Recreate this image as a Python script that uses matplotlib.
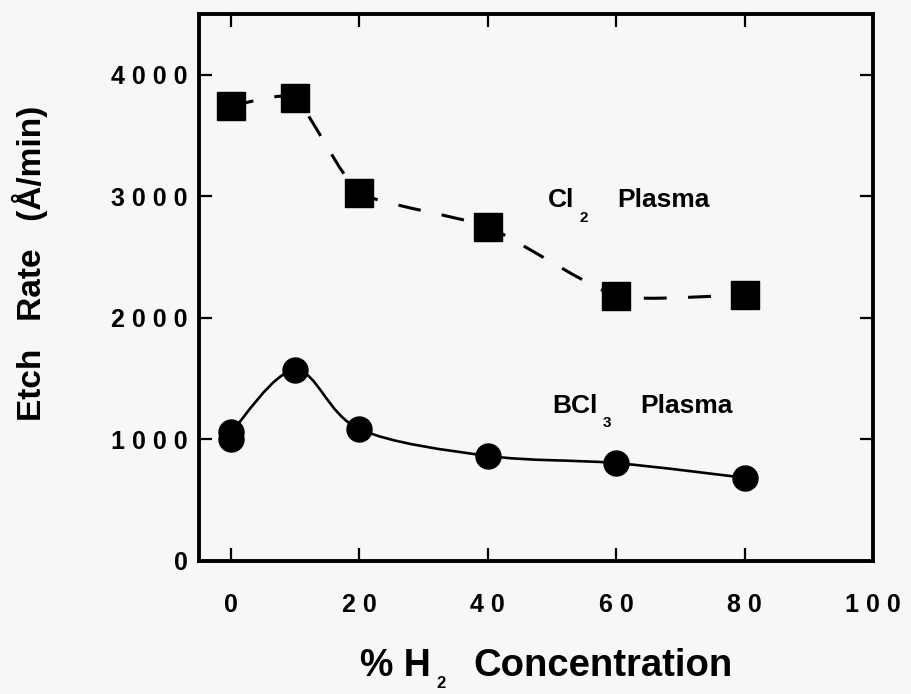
import matplotlib
matplotlib.use("Agg")
import matplotlib.pyplot as plt
from matplotlib.path import Path
from matplotlib.patches import PathPatch

# data
h2_pct = [0, 10, 20, 40, 60, 80]
cl2_rate = [3740, 3810, 3030, 2750, 2180, 2190]
bcl3_x = [0, 0, 10, 20, 40, 60, 80]
bcl3_rate = [1000, 1060, 1570, 1085, 865, 805, 685]

x_ticks = [0, 20, 40, 60, 80, 100]
x_labels = ["0", "2 0", "4 0", "6 0", "8 0", "1 0 0"]
y_ticks = [0, 1000, 2000, 3000, 4000]
y_labels = ["0", "1 0 0 0", "2 0 0 0", "3 0 0 0", "4 0 0 0"]

plt.rcParams['font.family'] = ['Liberation Sans', 'DejaVu Sans']
plt.rcParams['font.weight'] = 'bold'

BG = "#f7f7f7"
W, H = 912, 694


# smooth curve through points (cardinal spline as cubic bezier)
def smooth_path(xs, ys, k=1 / 6):
    pts = list(zip(xs, ys))
    verts = [pts[0]]
    codes = [Path.MOVETO]
    for i in range(len(pts) - 1):
        p0 = pts[i - 1] if i > 0 else pts[i]
        p1 = pts[i]
        p2 = pts[i + 1]
        p3 = pts[i + 2] if i + 2 < len(pts) else p2
        c1 = (p1[0] + (p2[0] - p0[0]) * k, p1[1] + (p2[1] - p0[1]) * k)
        c2 = (p2[0] - (p3[0] - p1[0]) * k, p2[1] - (p3[1] - p1[1]) * k)
        verts += [c1, c2, p2]
        codes += [Path.CURVE4] * 3
    return Path(verts, codes)


fig = plt.figure(figsize=(W / 100, H / 100), dpi=100, facecolor=BG)
ax = fig.add_axes([199 / W, 1 - 561 / H, (873 - 199) / W, (561 - 14) / H])
ax.set_facecolor(BG)

ax.set_xlim(-5, 100)
ax.set_ylim(0, 4500)

# Cl2 curve (dashed) + squares
ax.add_patch(PathPatch(smooth_path(h2_pct, cl2_rate, k=1 / 12), fill=False,
                       edgecolor='black', lw=2.2, linestyle=(0, (7.5, 7)),
                       capstyle='butt', zorder=2))
ax.plot(h2_pct, cl2_rate, linestyle='none', marker='s', markersize=20,
        color='black', zorder=3)

# BCl3 curve (solid) + circles
ax.add_patch(PathPatch(smooth_path(bcl3_x[1:], bcl3_rate[1:]), fill=False,
                       edgecolor='black', lw=1.9, zorder=2))
ax.plot(bcl3_x, bcl3_rate, linestyle='none', marker='o', markersize=18,
        color='black', zorder=3)

# axes styling
for s in ax.spines.values():
    s.set_linewidth(2.8)
ax.set_xticks(x_ticks)
ax.set_xticklabels(x_labels)
ax.set_yticks(y_ticks)
ax.set_yticklabels(y_labels)
ax.tick_params(direction='in', length=9.5, width=1.6, top=True, right=True,
               labelsize=18)
ax.tick_params(axis='x', pad=23)
ax.tick_params(axis='y', pad=8)

# annotations
ax.text(49.3, 2914, "Cl", fontsize=19, va='baseline', ha='left')
ax.text(54.9, 2823, "2", fontsize=11, va='center', ha='center')
ax.text(60.1, 2914, "Plasma", fontsize=19, va='baseline', ha='left')
ax.text(50.0, 1218, "BCl", fontsize=19, va='baseline', ha='left')
ax.text(58.5, 1136, "3", fontsize=11, va='center', ha='center')
ax.text(63.7, 1218, "Plasma", fontsize=19, va='baseline', ha='left')

# axis titles
fig.text(360 / W, 1 - 676 / H, "% H", fontsize=27, va='baseline', ha='left')
fig.text(441 / W, 1 - 676 / H, "2", fontsize=12, va='top', ha='center')
fig.text(473 / W, 1 - 676 / H, "Concentration", fontsize=27.5, va='baseline', ha='left')
fig.text(30 / W, 1 - 263 / H, "Etch   Rate   (Å/min)", fontsize=24, rotation=90,
         va='center', ha='center')

fig.savefig("out.png", dpi=100, facecolor=BG)
